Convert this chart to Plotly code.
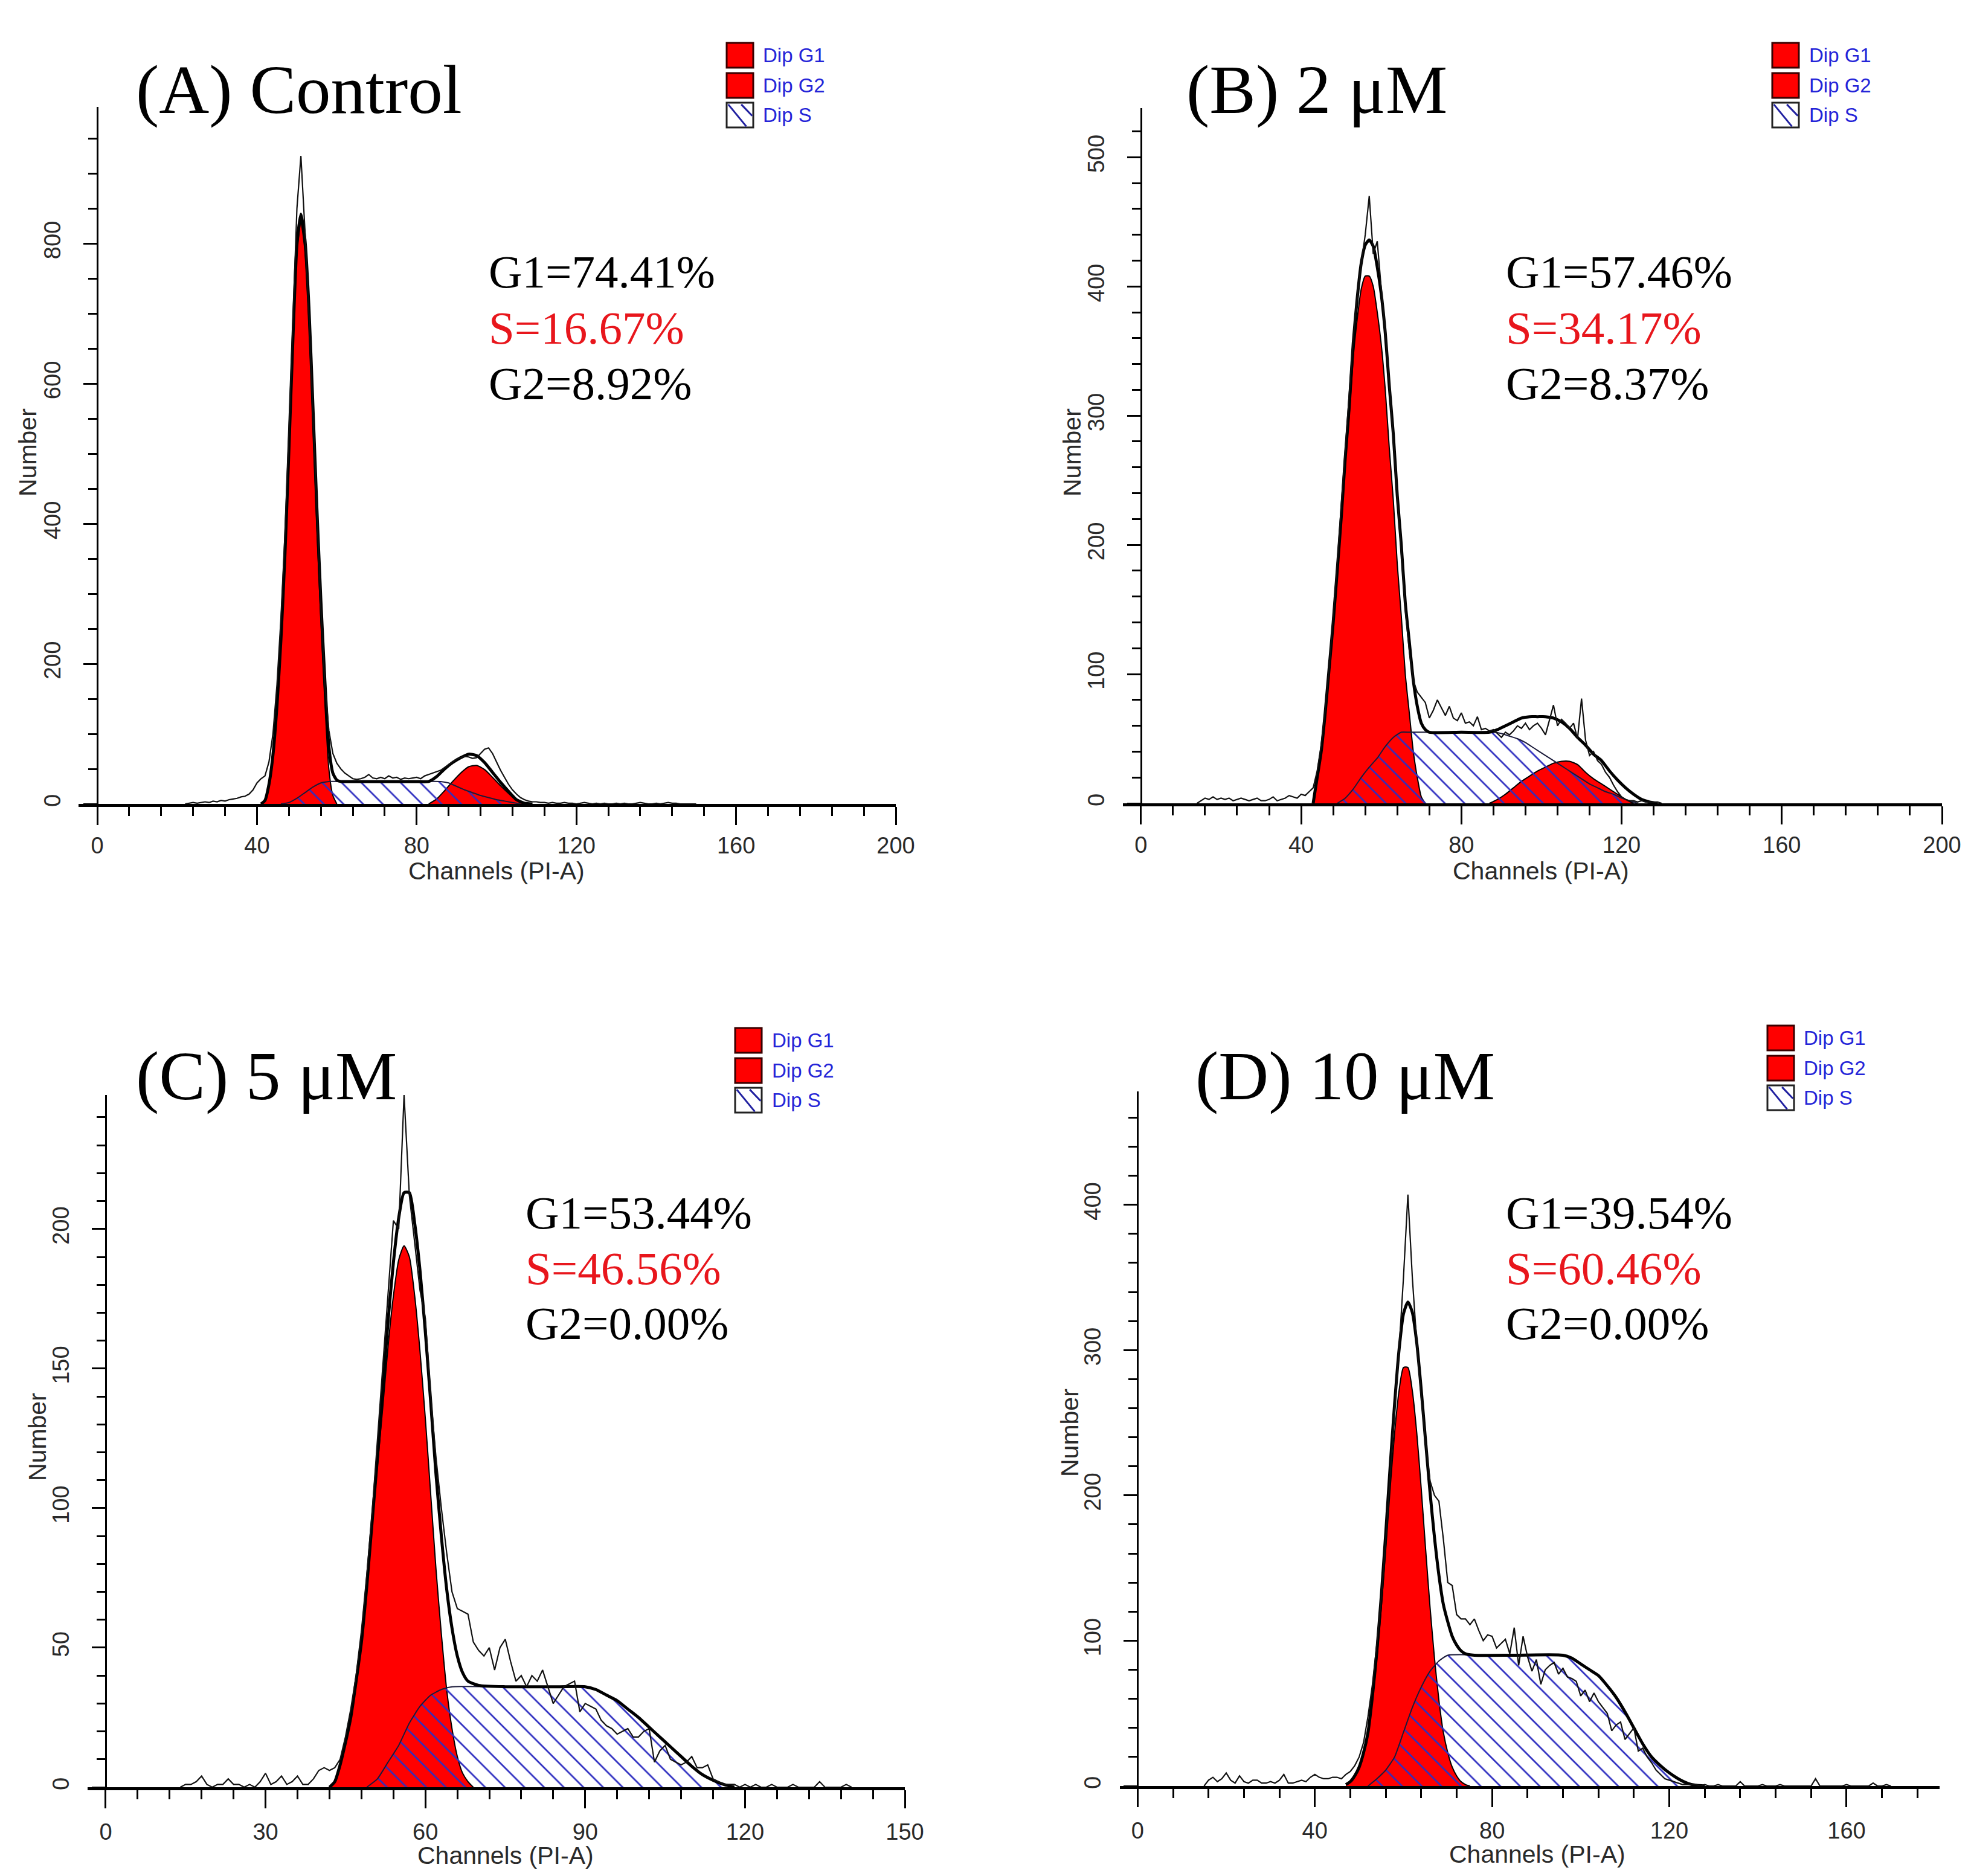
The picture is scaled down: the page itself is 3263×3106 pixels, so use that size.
import plotly.graph_objects as go

W, H = 3263, 3106          # target picture size
OFF = 8                    # page body margin in the browser
WF, HF = W - 2 * OFF, H - 2 * OFF   # figure size

# ======================= DATA =======================
TITLES = ["(A) Control", "(B) 2 \u03bcM", "(C) 5 \u03bcM", "(D) 10 \u03bcM"]
G1_PCT = ["74.41", "57.46", "53.44", "39.54"]
S_PCT = ["16.67", "34.17", "46.56", "60.46"]
G2_PCT = ["8.92", "8.37", "0.00", "0.00"]
LEGEND_LABELS = ["Dip G1", "Dip G2", "Dip S"]

# ---- Panel A: Control ----
A_RAW_START = 22
A_RAW = [0, 1, 2, 1, 2, 3, 2, 4, 3, 5,
         4, 6, 7, 8, 10, 11, 14, 20, 30, 36,
         40, 60, 100, 170, 265, 385, 530, 690, 850, 925,
         820, 700, 560, 410, 280, 170, 105, 72, 58, 50,
         44, 40, 36, 35, 36, 38, 42, 37, 36, 38,
         36, 40, 37, 38, 35, 37, 36, 37, 38, 36,
         40, 42, 44, 46, 48, 52, 56, 60, 64, 66,
         68, 67, 65, 66, 72, 78, 80, 72, 60, 48,
         38, 28, 20, 14, 9, 6, 4, 3, 3, 2,
         2, 1, 2, 1, 1, 2, 1, 1, 0, 1,
         2, 1, 0, 1, 0, 1, 0, 0, 1, 0,
         1, 0, 0, 1, 2, 1, 0, 0, 1, 0,
         1, 2, 1, 1, 0, 0, 0, 0, 0]
A_G1_CH = [41, 42, 43, 44, 45, 46, 47, 48, 49, 50, 51, 52, 53, 54, 55, 56, 57, 58, 59, 60]
A_G1 = [0, 5, 28, 70, 140, 235, 355, 505, 660, 790, 830, 790, 690, 545, 395, 260, 145, 50, 12, 0]
A_G2_CH = [83, 85, 87, 89, 91, 93, 95, 97, 99, 101, 103, 105, 107]
A_G2 = [0, 7, 19, 32, 44, 53, 55, 49, 38, 26, 15, 5, 0]
A_S_CH = [46, 48, 50, 52, 54, 56, 58, 60, 70, 80, 86, 88, 90, 92, 94, 96, 98, 100, 102, 104, 106]
A_S = [0, 2, 8, 16, 24, 30, 32, 32, 32, 32, 32, 30, 25, 20, 16, 12, 9, 6, 4, 2, 0]
A_FIT_CH = [41, 42, 43, 44, 45, 46, 47, 48, 49, 50, 51, 52, 53, 54, 55, 56, 57, 58, 59, 60,
            61, 62, 70, 80, 83, 85, 87, 89, 91, 93, 95, 97, 99, 101, 103, 105, 107, 109]
A_FIT = [0, 5, 28, 70, 140, 235, 356, 507, 664, 798, 842, 806, 710, 569, 422, 290, 176, 82, 44, 34,
         32, 32, 32, 32, 32, 39, 50, 59, 66, 71, 69, 59, 45, 31, 18, 6, 1, 0]
A_MARKS = [50.5, 97.4]

# ---- Panel B: 2 uM ----
B_RAW_START = 14
B_RAW = [0, 2, 4, 3, 5, 3, 4, 3, 4, 2,
         3, 4, 3, 2, 3, 4, 2, 2, 3, 5,
         2, 3, 4, 6, 5, 4, 7, 6, 9, 12,
         25, 45, 72, 105, 145, 185, 230, 275, 318, 360,
         392, 418, 440, 470, 425, 435, 398, 365, 325, 280,
         235, 190, 150, 118, 95, 86, 82, 78, 66, 72,
         80, 74, 68, 75, 66, 64, 70, 62, 63, 60,
         67, 57, 58, 56, 57, 54, 51, 55, 53, 56,
         60, 58, 62, 57, 60, 62, 58, 53, 64, 76,
         60, 65, 62, 58, 62, 50, 81, 49, 37, 40,
         33, 30, 24, 20, 14, 9, 5, 3, 2, 2,
         1, 2, 1, 1, 1, 1, 0]
B_G1_CH = [43, 44, 45, 46, 47, 48, 49, 50, 51, 52, 53, 54, 55, 56, 57, 58, 59, 60, 61, 62,
           63, 64, 65, 66, 67, 68, 69, 70, 71]
B_G1 = [0, 20, 40, 70, 105, 140, 180, 220, 263, 300, 345, 375, 398, 408, 408, 400, 380, 355, 320, 275,
        235, 185, 145, 100, 70, 40, 20, 5, 0]
B_G2_CH = [87, 89, 91, 93, 95, 97, 99, 101, 103, 105, 107, 109, 111, 113, 115, 117, 119, 121, 123]
B_G2 = [0, 3, 7, 12, 17, 21, 25, 28, 31, 32.5, 32.5, 30, 24, 19, 15, 11, 7, 3, 0]
B_S_CH = [49, 51, 53, 55, 57, 59, 61, 63, 65, 67, 75, 85, 88, 90, 92, 94, 96, 98, 100, 102,
          104, 106, 108, 110, 112, 114, 116, 118, 120, 122, 124]
B_S = [0, 4, 11, 20, 28, 35, 44, 51, 55, 55, 55, 55, 55, 54, 52, 50, 47, 43, 39, 35,
       31, 27, 23, 19, 15, 12, 9, 7, 4, 2, 0]
B_FIT_CH = [43, 44, 45, 46, 47, 48, 49, 50, 51, 52, 53, 54, 55, 56, 57, 58, 59, 60, 61, 62,
            63, 64, 65, 66, 67, 68, 69, 70, 71, 72, 80, 87, 89, 91, 93, 95, 97, 99, 101, 103,
            105, 107, 109, 111, 113, 115, 117, 119, 121, 123, 125, 127, 129]
B_FIT = [0, 20, 40, 70, 105, 140, 180, 221, 267, 307, 356, 391, 418, 432, 436, 431, 415, 394, 364, 323,
         286, 238, 200, 155, 125, 95, 75, 62, 57, 55, 55, 55, 57, 60, 63, 66, 67, 67, 67, 66,
         63, 58, 51, 45, 38, 33, 25, 18, 12, 7, 3, 1, 0]
B_MARKS = [56.7]

# ---- Panel C: 5 uM ----
C_RAW_START = 14
C_RAW = [0, 1, 1, 2, 4, 1, 0, 1, 1, 3,
         1, 1, 0, 1, 0, 2, 5, 1, 2, 4,
         1, 2, 4, 1, 1, 3, 6, 7, 6, 7,
         10, 18, 28, 40, 56, 76, 98, 124, 150, 178,
         203, 200, 248, 212, 195, 178, 168, 140, 118, 100,
         84, 70, 64, 63, 62, 52, 49, 47, 50, 42,
         50, 53, 45, 38, 40, 36, 40, 38, 42, 36,
         30, 33, 36, 37, 38, 27, 30, 29, 28, 24,
         22, 21, 19, 20, 21, 18, 18, 20, 21, 9,
         13, 15, 10, 9, 8, 9, 11, 7, 7, 8,
         3, 2, 1, 1, 1, 0, 1, 0, 1, 0,
         0, 1, 0, 0, 0, 1, 0, 0, 0, 0,
         2, 0, 0, 0, 0, 1, 0]
C_G1_CH = [42, 43, 44, 45, 46, 47, 48, 49, 50, 51, 52, 53, 54, 55, 56, 57, 58, 59, 60, 61,
           62, 63, 64, 65, 66, 67, 68, 69]
C_G1 = [0, 2, 8, 16, 25, 38, 52, 72, 94, 115, 136, 158, 176, 189, 194, 190, 176, 156, 132, 105,
        78, 55, 35, 21, 11, 5, 2, 0]
C_S_CH = [49, 51, 53, 55, 57, 59, 61, 63, 65, 75, 85, 90, 92, 94, 96, 98, 100, 102, 104, 106,
          108, 110, 112, 114, 116, 118]
C_S = [0, 3, 9, 15, 23, 29, 33, 35, 36, 36, 36, 36, 35, 33, 31, 28, 25, 21.5, 18, 14.5,
       11, 7.5, 4.5, 2.5, 1, 0]
C_FIT_CH = [42, 43, 44, 45, 46, 47, 48, 49, 50, 51, 52, 53, 54, 55, 56, 57, 58, 59, 60, 61,
            62, 63, 64, 65, 66, 67, 68, 70, 75, 85, 90, 92, 94, 96, 98, 100, 102, 104, 106, 108,
            110, 112, 114, 116, 118]
C_FIT = [0, 2, 8, 16, 25, 38, 52, 72, 95, 118, 142, 167, 188, 204, 213, 213, 202, 185, 163, 138,
         112, 90, 71, 57, 47, 41, 38, 36.5, 36, 36, 36, 35, 33, 31, 28, 25, 21.5, 18, 14.5, 11,
         7.5, 4.5, 2.5, 1, 0]
C_MARKS = [55.8]

# ---- Panel D: 10 uM ----
D_RAW_START = 15
D_RAW = [0, 4, 6, 3, 5, 9, 4, 2, 7, 3,
         2, 4, 4, 2, 2, 3, 2, 4, 8, 2,
         2, 3, 4, 3, 6, 8, 6, 5, 5, 6,
         6, 5, 8, 10, 14, 20, 30, 48, 70, 98,
         130, 170, 215, 258, 300, 350, 407, 350, 305, 268,
         236, 210, 200, 196, 170, 140, 138, 118, 115, 115,
         111, 115, 107, 100, 104, 103, 95, 98, 101, 91,
         109, 83, 103, 89, 79, 87, 70, 80, 83, 85,
         77, 81, 75, 74, 72, 62, 66, 58, 64, 58,
         54, 50, 38, 42, 44, 32, 36, 40, 24, 26,
         20, 16, 11, 8, 5, 4, 3, 2, 1, 1,
         1, 1, 0, 1, 0, 0, 1, 0, 0, 0,
         0, 3, 0, 0, 0, 0, 1, 0, 0, 0,
         1, 0, 0, 0, 0, 0, 0, 0, 5, 0,
         0, 0, 0, 0, 0, 1, 0, 0, 0, 0,
         0, 2, 0, 0, 1, 0]
D_G1_CH = [47, 48, 49, 50, 51, 52, 53, 54, 55, 56, 57, 58, 59, 60, 61, 62, 63, 64, 65, 66,
           67, 68, 69, 70, 71, 72, 73, 74, 75]
D_G1 = [1, 3, 7, 13, 23, 37, 59, 88, 123, 163, 205, 243, 272, 288, 288, 272, 243, 205, 163, 123,
        88, 59, 37, 23, 13, 7, 3, 1, 0]
D_S_CH = [52, 54, 56, 58, 60, 62, 64, 66, 68, 70, 80, 90, 96, 98, 100, 102, 104, 106, 108, 110,
          112, 114, 116, 118, 120, 122, 124, 126, 128]
D_S = [0, 5, 11, 20, 37, 54, 68, 79, 86, 90, 90, 90, 90, 88, 84, 80, 76, 69, 61, 51,
       40, 29, 20, 14, 9, 5, 2, 0.5, 0]
D_FIT_CH = [47, 48, 49, 50, 51, 52, 53, 54, 55, 56, 57, 58, 59, 60, 61, 62, 63, 64, 65, 66,
            67, 68, 69, 70, 71, 72, 73, 74, 76, 85, 96, 98, 100, 102, 104, 106, 108, 110, 112, 114,
            116, 118, 120, 122, 124, 126, 128]
D_FIT = [1, 3, 7, 13, 23, 37, 62, 93, 131, 174, 220, 263, 300, 325, 333, 326, 305, 273, 237, 202,
         171, 145, 125, 113, 103, 97, 93, 91, 90, 90, 90, 88, 84, 80, 76, 69, 61, 51, 40, 29,
         20, 14, 9, 5, 2, 0.5, 0]
D_MARKS = [61.0]

# ======================= LAYOUT GEOMETRY (pixels of the target picture) =======================
def P(x):
    return (x - OFF) / WF


def Q(y):
    return 1 - (y - OFF) / HF


panels = [
    dict(xr=[-4.7, 200], xpx=(130, 1483), yaxpx=161, yr=[0, 995], ypx=(177, 1331),
         xd=40, xm=8, yd=200, ym=50, xso=1,
         raw=(A_RAW_START, A_RAW), g1=(A_G1_CH, A_G1), g2=(A_G2_CH, A_G2), s=(A_S_CH, A_S),
         fit=(A_FIT_CH, A_FIT), marks=A_MARKS,
         title=(223, 148), stats=(807, [450, 543, 635]), leg=(1203, [71, 121, 170], 1261),
         ylab=(46, 749), xlab=(822, 1442)),
    dict(xr=[-4.5, 200], xpx=(1859, 3215), yaxpx=1889, yr=[0, 538], ypx=(179, 1330),
         xd=40, xm=8, yd=100, ym=20, xso=1,
         raw=(B_RAW_START, B_RAW), g1=(B_G1_CH, B_G1), g2=(B_G2_CH, B_G2), s=(B_S_CH, B_S),
         fit=(B_FIT_CH, B_FIT), marks=B_MARKS,
         title=(1962, 148), stats=(2491, [450, 543, 635]), leg=(2934, [71, 121, 170], 2993),
         ylab=(1775, 749), xlab=(2551, 1442)),
    dict(xr=[-3.4, 150], xpx=(145, 1498), yaxpx=175, yr=[0, 248], ypx=(1813, 2959),
         xd=30, xm=6, yd=50, ym=10, xso=6,
         raw=(C_RAW_START, C_RAW), g1=(C_G1_CH, C_G1), g2=None, s=(C_S_CH, C_S),
         fit=(C_FIT_CH, C_FIT), marks=C_MARKS,
         title=(223, 1782), stats=(868, [2008, 2100, 2191]), leg=(1217, [1702, 1752, 1801], 1276),
         ylab=(62, 2379), xlab=(837, 3072)),
    dict(xr=[-4, 181], xpx=(1854, 3211), yaxpx=1883, yr=[0, 478], ypx=(1807, 2957),
         xd=40, xm=8, yd=100, ym=20, xso=6,
         raw=(D_RAW_START, D_RAW), g1=(D_G1_CH, D_G1), g2=None, s=(D_S_CH, D_S),
         fit=(D_FIT_CH, D_FIT), marks=D_MARKS,
         title=(1977, 1782), stats=(2491, [2008, 2100, 2191]), leg=(2926, [1698, 1748, 1797], 2984),
         ylab=(1771, 2372), xlab=(2545, 3070)),
]

RED = "#FF0000"
HATCH = "#2E2EC0"
SANS = "Liberation Sans, Arial, sans-serif"
SERIF = "Liberation Serif, Times New Roman, serif"
LEG_BLUE = "#2424D8"

fig = go.Figure()
layout = dict(
    template="none",
    width=WF, height=HF, margin=dict(l=0, r=0, t=0, b=0, autoexpand=False),
    paper_bgcolor="white", plot_bgcolor="white", showlegend=False,
)
annotations = []
shapes = []

for i, p in enumerate(panels):
    n = "" if i == 0 else str(i + 1)
    xa, ya = "x" + n, "y" + n
    x0, x1 = p["xpx"]
    yt, yb = p["ypx"]
    layout["xaxis" + n] = dict(
        domain=[P(x0), P(x1)], range=p["xr"], anchor=ya, automargin=False,
        showgrid=False, zeroline=False, showline=True, linecolor="black", linewidth=5,
        ticks="outside", ticklen=30, tickwidth=3, tickcolor="black",
        tick0=0, dtick=p["xd"], ticklabelstandoff=p["xso"],
        tickfont=dict(family=SANS, size=38, color="#2a2a2a"),
        minor=dict(ticks="outside", dtick=p["xm"], tick0=0, ticklen=15, tickwidth=3, tickcolor="black"),
        fixedrange=True,
    )
    layout["yaxis" + n] = dict(
        domain=[Q(yb), Q(yt)], range=p["yr"], anchor="free", position=P(p["yaxpx"]),
        automargin=False,
        showgrid=False, zeroline=False, showline=True, linecolor="black", linewidth=3,
        ticks="outside", ticklen=22, tickwidth=3, tickcolor="black",
        tick0=0, dtick=p["yd"], tickangle=-90, ticklabelstandoff=23,
        tickfont=dict(family=SANS, size=38, color="#2a2a2a"),
        minor=dict(ticks="outside", dtick=p["ym"], tick0=0, ticklen=14, tickwidth=3, tickcolor="black"),
        fixedrange=True,
    )

    # G1 (red)
    fig.add_trace(go.Scatter(x=p["g1"][0], y=p["g1"][1], xaxis=xa, yaxis=ya, mode="lines",
                             line=dict(color="black", width=2, shape="spline", smoothing=0.6),
                             fill="tozeroy", fillcolor=RED, hoverinfo="skip"))
    # G2 (red)
    if p["g2"] is not None:
        fig.add_trace(go.Scatter(x=p["g2"][0], y=p["g2"][1], xaxis=xa, yaxis=ya, mode="lines",
                                 line=dict(color="black", width=2, shape="spline", smoothing=0.6),
                                 fill="tozeroy", fillcolor=RED, hoverinfo="skip"))
    # S (hatched)
    fig.add_trace(go.Scatter(x=p["s"][0], y=p["s"][1], xaxis=xa, yaxis=ya, mode="lines",
                             line=dict(color="#1a1a3a", width=2, shape="spline", smoothing=0.5),
                             fill="tozeroy", fillcolor="rgba(0,0,0,0)",
                             fillpattern=dict(shape="\\", fgcolor=HATCH, bgcolor="rgba(0,0,0,0)",
                                              size=23, solidity=0.12, fillmode="replace"),
                             hoverinfo="skip"))
    # Model fit (thick)
    fig.add_trace(go.Scatter(x=p["fit"][0], y=p["fit"][1], xaxis=xa, yaxis=ya, mode="lines",
                             line=dict(color="black", width=5, shape="spline", smoothing=0.6),
                             hoverinfo="skip"))
    # Raw histogram (thin)
    rs, rv = p["raw"]
    fig.add_trace(go.Scatter(x=[rs + k for k in range(len(rv))], y=rv, xaxis=xa, yaxis=ya,
                             mode="lines", line=dict(color="#111111", width=2.2),
                             hoverinfo="skip"))
    # peak markers below axis
    ppu = (yb - yt) / (p["yr"][1] - p["yr"][0])
    fig.add_trace(go.Scatter(x=p["marks"], y=[-22 / ppu] * len(p["marks"]), xaxis=xa, yaxis=ya,
                             mode="markers", cliponaxis=False,
                             marker=dict(symbol="triangle-up", size=34, color="black"),
                             hoverinfo="skip"))

    # Panel title
    tx, ty = p["title"]
    annotations.append(dict(x=P(tx), y=Q(ty), xref="paper", yref="paper", text=TITLES[i],
                            showarrow=False, xanchor="left", yanchor="middle",
                            font=dict(family=SERIF, size=115, color="black")))
    # Stats
    sx, sys_ = p["stats"]
    for txt, col, yy in zip(["G1=" + G1_PCT[i] + "%", "S=" + S_PCT[i] + "%", "G2=" + G2_PCT[i] + "%"],
                            ["black", "#E8161C", "black"], sys_):
        annotations.append(dict(x=P(sx), y=Q(yy), xref="paper", yref="paper", text=txt,
                                showarrow=False, xanchor="left", yanchor="middle",
                                font=dict(family=SERIF, size=77, color=col)))
    # Axis titles
    lx, ly = p["ylab"]
    annotations.append(dict(x=P(lx), y=Q(ly), xref="paper", yref="paper", text="Number",
                            showarrow=False, textangle=-90, xanchor="center", yanchor="middle",
                            font=dict(family=SANS, size=41, color="#2a2a2a")))
    cx, cy = p["xlab"]
    annotations.append(dict(x=P(cx), y=Q(cy), xref="paper", yref="paper", text="Channels (PI-A)",
                            showarrow=False, xanchor="center", yanchor="middle",
                            font=dict(family=SANS, size=41, color="#2a2a2a")))
    # Custom legend
    lgx, lgys, ltx = p["leg"]
    sw, sh = 44, 41
    for j, (lab, top) in enumerate(zip(LEGEND_LABELS, lgys)):
        if j < 2:
            shapes.append(dict(type="rect", xref="paper", yref="paper",
                               x0=P(lgx), x1=P(lgx + sw), y0=Q(top + sh), y1=Q(top),
                               fillcolor=RED, line=dict(color="#3a0000", width=3)))
        else:
            shapes.append(dict(type="rect", xref="paper", yref="paper",
                               x0=P(lgx), x1=P(lgx + sw), y0=Q(top + sh), y1=Q(top),
                               fillcolor="white", line=dict(color="#222222", width=3)))
            for (fx0, fy0, fx1, fy1) in [(0.06, 0.07, 0.74, 0.96), (0.55, 0.07, 0.96, 0.53)]:
                shapes.append(dict(type="line", xref="paper", yref="paper",
                                   x0=P(lgx + fx0 * sw), y0=Q(top + fy0 * sh),
                                   x1=P(lgx + fx1 * sw), y1=Q(top + fy1 * sh),
                                   line=dict(color="#2020A0", width=3)))
        annotations.append(dict(x=P(ltx), y=Q(top + sh / 2), xref="paper", yref="paper", text=lab,
                                showarrow=False, xanchor="left", yanchor="middle",
                                font=dict(family=SANS, size=33, color=LEG_BLUE)))

layout["annotations"] = annotations
layout["shapes"] = shapes
fig.update_layout(**layout)
fig.write_html("out.html")
